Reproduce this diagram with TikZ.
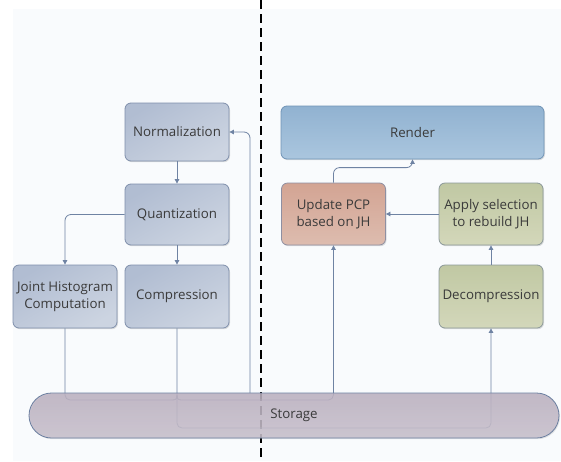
\documentclass[tikz,border=0pt]{standalone}
\usepackage{fontspec}
\setmainfont{Open Sans}
\usetikzlibrary{arrows.meta,shadows}
\definecolor{bgc}{HTML}{F9FBFD}
\definecolor{txt}{HTML}{3A3A3A}
\definecolor{lnc}{HTML}{6F83A3}
\definecolor{bgA}{HTML}{B1BDD2}\definecolor{bgB}{HTML}{CCD4E1}\definecolor{bgD}{HTML}{7F8FAB}
\definecolor{rnA}{HTML}{91B2D1}\definecolor{rnB}{HTML}{AAC6DE}\definecolor{rnD}{HTML}{6F93B6}
\definecolor{pcA}{HTML}{D3A493}\definecolor{pcB}{HTML}{DDBCAF}\definecolor{pcD}{HTML}{8E8FA2}
\definecolor{grA}{HTML}{C0C8A3}\definecolor{grB}{HTML}{D3D7BA}\definecolor{grD}{HTML}{8B9899}
\definecolor{stA}{HTML}{BCB1C1}\definecolor{stB}{HTML}{C8C0CC}\definecolor{stD}{HTML}{6B7FA0}
\begin{document}
\begin{tikzpicture}[x=1pt,y=-1pt,
  box/.style={draw=bgD, line width=0.8pt, rounded corners=6pt, inner sep=0pt,
    align=center, text=txt, font=\fontsize{13.3}{17.5}\selectfont,
    top color=bgA, bottom color=bgB, shading angle=30,
    drop shadow={opacity=0.25, shadow xshift=1pt, shadow yshift=-1.2pt}},
  rbox/.style={box, draw=rnD, top color=rnA, bottom color=rnB},
  pbox/.style={box, draw=pcD, top color=pcA, bottom color=pcB},
  gbox/.style={box, draw=grD, top color=grA, bottom color=grB},
  line/.style={draw=lnc, line width=0.8pt},
  conn/.style={line, -{Triangle[length=4.5pt,width=4.5pt]}},
]
\useasboundingbox (0,0) rectangle (561,461);
\fill[white] (0,0) rectangle (561,461);
\fill[bgc] (13,9) rectangle (561,461);

% dashed separator
\coordinate (dtop) at (261,0);
\coordinate (dbot) at (261,461);
\draw[black, line width=1.3pt, dash pattern=on 9pt off 5pt] (dtop) -- (dbot);

% nodes
\node[box, minimum width=104pt, minimum height=58pt] (norm) at (177,132) {Normalization};
\node[box, minimum width=104pt, minimum height=61pt] (quant) at (177,214.5) {Quantization};
\node[box, minimum width=104pt, minimum height=63pt] (jh) at (65,296.5) {Joint Histogram\\Computation};
\node[box, minimum width=104pt, minimum height=63pt] (comp) at (177,296.5) {Compression};
\node[rbox, minimum width=263pt, minimum height=53pt] (render) at (412.5,132.5) {Render};
\node[pbox, minimum width=104pt, minimum height=62pt] (pcp) at (333.5,214) {Update PCP\\based on JH};
\node[gbox, minimum width=104pt, minimum height=62pt] (apply) at (491,214) {Apply selection\\to rebuild JH};
\node[gbox, minimum width=104pt, minimum height=63pt] (decomp) at (491,296.5) {Decompression};

% connectors
\draw[conn] (norm.south) -- (quant.north);
\draw[conn] (quant.south) -- (comp.north);
\draw[conn, rounded corners=6pt] (quant.west) -| (jh.north);
\draw[conn] (apply.west) -- (pcp.east);
\draw[conn] (decomp.north) -- (apply.south);
\draw[conn, rounded corners=6pt] (pcp.north) -- ++(0,-15) -| (render.south);

\coordinate (up) at (250,393);
\draw[conn, rounded corners=6pt] (up) |- (norm.east);

\coordinate (j1) at (65,400);
\coordinate (j2) at (172,400);
\coordinate (j3) at (177,395);
\coordinate (j4) at (182,400);
\coordinate (c2) at (177,428);
\draw[line, rounded corners=5pt] (jh.south) -- (j1) -- (j2);
\draw[line] (j2) .. controls (176,400) and (177,399) .. (j3);
\draw[line] (j3) .. controls (177,399) and (178,400) .. (j4);
\draw[conn, rounded corners=5pt] (j4) -| (pcp.south);
\draw[conn, rounded corners=5pt] (comp.south) -- (c2) -| (decomp.south);

% storage
\node[draw=stD, line width=0.8pt, rounded corners=22.5pt, inner sep=0pt,
  minimum width=530pt, minimum height=45pt,
  top color=stA, bottom color=stB, fill opacity=0.85, text opacity=1,
  text=txt, font=\fontsize{13.3}{17.5}\selectfont,
  drop shadow={opacity=0.2, shadow xshift=1pt, shadow yshift=-1.2pt}] (storage) at (294,415.5) {Storage};
\end{tikzpicture}
\end{document}
